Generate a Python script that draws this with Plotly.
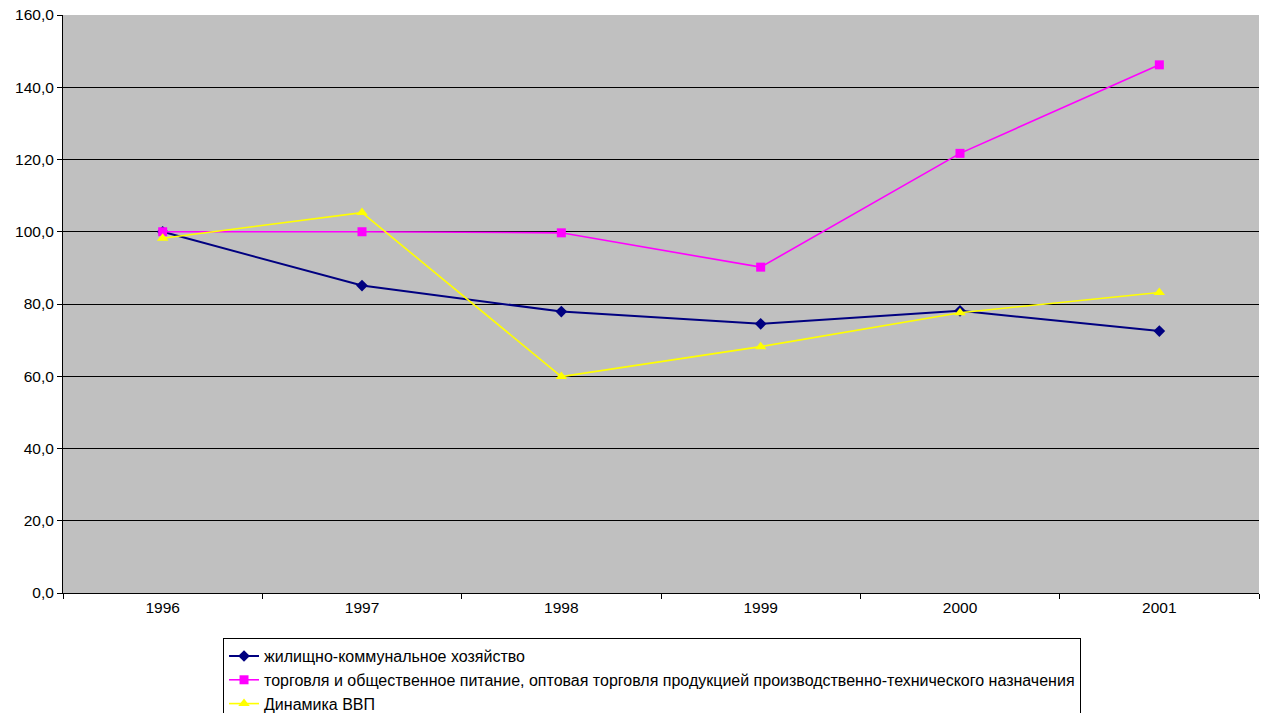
import plotly.graph_objects as go

years = ["1996", "1997", "1998", "1999", "2000", "2001"]
housing = [100.0, 85.1, 77.9, 74.5, 78.1, 72.5]
trade = [100.0, 100.0, 99.7, 90.2, 121.7, 146.2]
gdp = [98.2, 105.3, 59.9, 68.2, 77.6, 83.2]

names = [
    "жилищно-коммунальное хозяйство",
    "торговля и общественное питание, оптовая торговля продукцией производственно-технического назначения",
    "Динамика ВВП",
]

fig = go.Figure()
fig.add_trace(go.Scatter(
    x=years, y=housing, name=names[0], mode="lines+markers", legendgroup="a",
    line=dict(color="#000080", width=2),
    marker=dict(symbol="diamond", size=9, color="#000080"),
))
fig.add_trace(go.Scatter(
    x=years, y=trade, name=names[1], mode="lines+markers", legendgroup="b",
    line=dict(color="#FF00FF", width=1.6),
    marker=dict(symbol="square", size=9, color="#FF00FF"),
))
fig.add_trace(go.Scatter(
    x=years, y=gdp, name=names[2], mode="lines+markers", legendgroup="c",
    line=dict(color="#FFFF00", width=1.6),
    marker=dict(symbol="triangle-up", size=10, color="#FFFF00"),
))

fig.update_layout(
    width=1265, height=713,
    margin=dict(l=63, r=6, t=15, b=120, autoexpand=False),
    paper_bgcolor="white",
    plot_bgcolor="#C0C0C0",
    separators=", ",
    font=dict(family="Liberation Sans, Arial, sans-serif", size=15.5, color="black"),
    showlegend=True,
    legend=dict(
        x=0.1338, y=-0.078, xanchor="left", yanchor="top",
        bgcolor="white", bordercolor="black", borderwidth=1,
        traceorder="grouped", tracegroupgap=0,
        font=dict(size=16),
    ),
    xaxis=dict(
        type="category", range=[-0.5, 5.5],
        tickson="boundaries", ticks="outside", ticklen=5, tickcolor="black",
        showline=True, linecolor="black", linewidth=1,
        showgrid=False, zeroline=False,
    ),
    yaxis=dict(
        range=[0, 160], dtick=20, tickformat=".1f",
        ticks="outside", ticklen=5, tickcolor="black",
        showline=True, linecolor="black", linewidth=1,
        showgrid=True, gridcolor="black", gridwidth=1,
        zeroline=False,
    ),
)

fig.write_html("out.html")
